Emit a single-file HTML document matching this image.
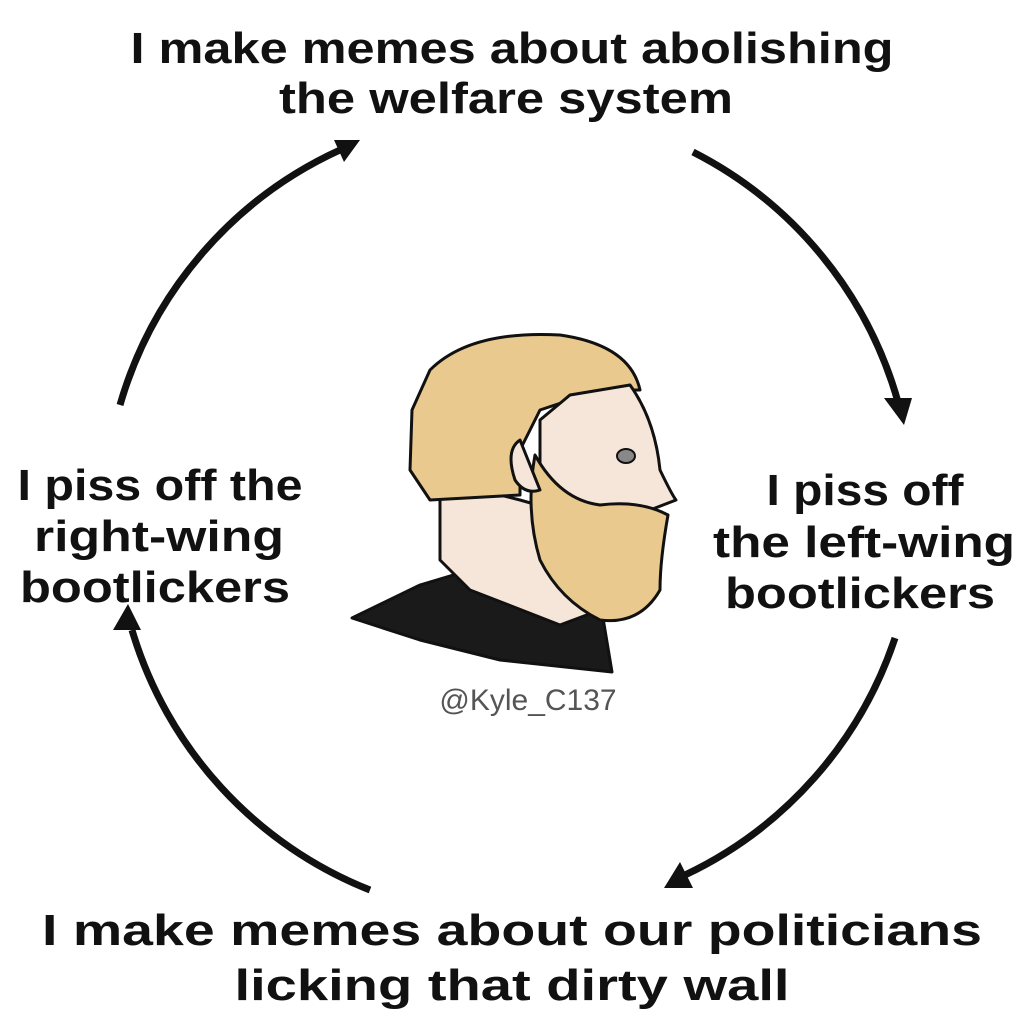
<!DOCTYPE html>
<html><head><meta charset="utf-8"><style>
html,body{margin:0;padding:0;background:#fff}
svg{display:block}
.t{font-family:"Liberation Sans",sans-serif;font-weight:bold;fill:#111}
</style></head><body>
<svg width="1024" height="1024" viewBox="0 0 1024 1024">
<defs><marker id="a" markerWidth="8" markerHeight="8" refX="4" refY="4" orient="auto" markerUnits="userSpaceOnUse" viewBox="0 0 8 8"><path d="M0,0 L8,4 L0,8 z" fill="#111"/></marker></defs>
<rect width="1024" height="1024" fill="#fff"/>
<g stroke="#111" stroke-width="7" fill="none">
<path d="M693,152 A403,403 0 0 1 898,402"/>
<path d="M895,638 A403,403 0 0 1 685,875"/>
<path d="M370,890 A403,403 0 0 1 132,630"/>
<path d="M120,405 A403,403 0 0 1 340,150"/>
</g>
<g fill="#111">
<path d="M884,398 L912,398 L904,425 z"/>
<path d="M680,862 L693,888 L664,888 z"/>
<path d="M113,630 L141,630 L128,604 z"/>
<path d="M334,140 L360,140 L344,162 z"/>
</g>
<g class="t" font-size="44" text-anchor="middle">
<text x="512" y="63" textLength="763" lengthAdjust="spacingAndGlyphs">I make memes about abolishing</text>
<text x="506" y="113" textLength="454" lengthAdjust="spacingAndGlyphs">the welfare system</text>
<text x="160" y="500" textLength="285" lengthAdjust="spacingAndGlyphs">I piss off the</text>
<text x="159" y="551" textLength="250" lengthAdjust="spacingAndGlyphs">right-wing</text>
<text x="155" y="602" textLength="270" lengthAdjust="spacingAndGlyphs">bootlickers</text>
<text x="865" y="505" textLength="197" lengthAdjust="spacingAndGlyphs">I piss off</text>
<text x="864" y="557" textLength="302" lengthAdjust="spacingAndGlyphs">the left-wing</text>
<text x="860" y="608" textLength="270" lengthAdjust="spacingAndGlyphs">bootlickers</text>
<text x="512" y="945" textLength="940" lengthAdjust="spacingAndGlyphs">I make memes about our politicians</text>
<text x="512" y="1000" textLength="555" lengthAdjust="spacingAndGlyphs">licking that dirty wall</text>
</g>
<text x="528" y="710" font-family="Liberation Sans,sans-serif" font-size="30" fill="#555" text-anchor="middle">@Kyle_C137</text>
<g stroke="#111" stroke-width="3" stroke-linejoin="round">
<path d="M352,618 L420,585 L470,570 L560,575 L600,600 L612,672 L500,660 L420,640 Z" fill="#1a1a1a"/>
<path d="M440,480 L440,560 L470,590 L560,625 L600,610 L590,520 L520,500 Z" fill="#f6e6da"/>
<path d="M430,370 Q470,330 560,335 Q630,345 640,390 L610,390 L570,400 L540,410 L520,450 L520,495 L430,500 L410,470 L412,410 Z" fill="#e9c98d"/>
<path d="M570,395 L630,385 Q655,420 660,470 Q672,495 676,500 L650,510 L640,560 L600,560 L560,520 L540,480 L540,420 Z" fill="#f6e6da"/>
<path d="M535,455 Q560,500 600,505 Q640,500 668,515 Q660,560 660,590 Q640,625 600,620 Q560,600 540,560 Q525,510 535,455 Z" fill="#e9c98d"/>
<path d="M520,440 Q505,450 515,480 Q525,495 540,490 Z" fill="#f6e6da"/>
</g>
<ellipse cx="626" cy="456" rx="9" ry="7" fill="#888" stroke="#111" stroke-width="2"/>
</svg>
</body></html>
